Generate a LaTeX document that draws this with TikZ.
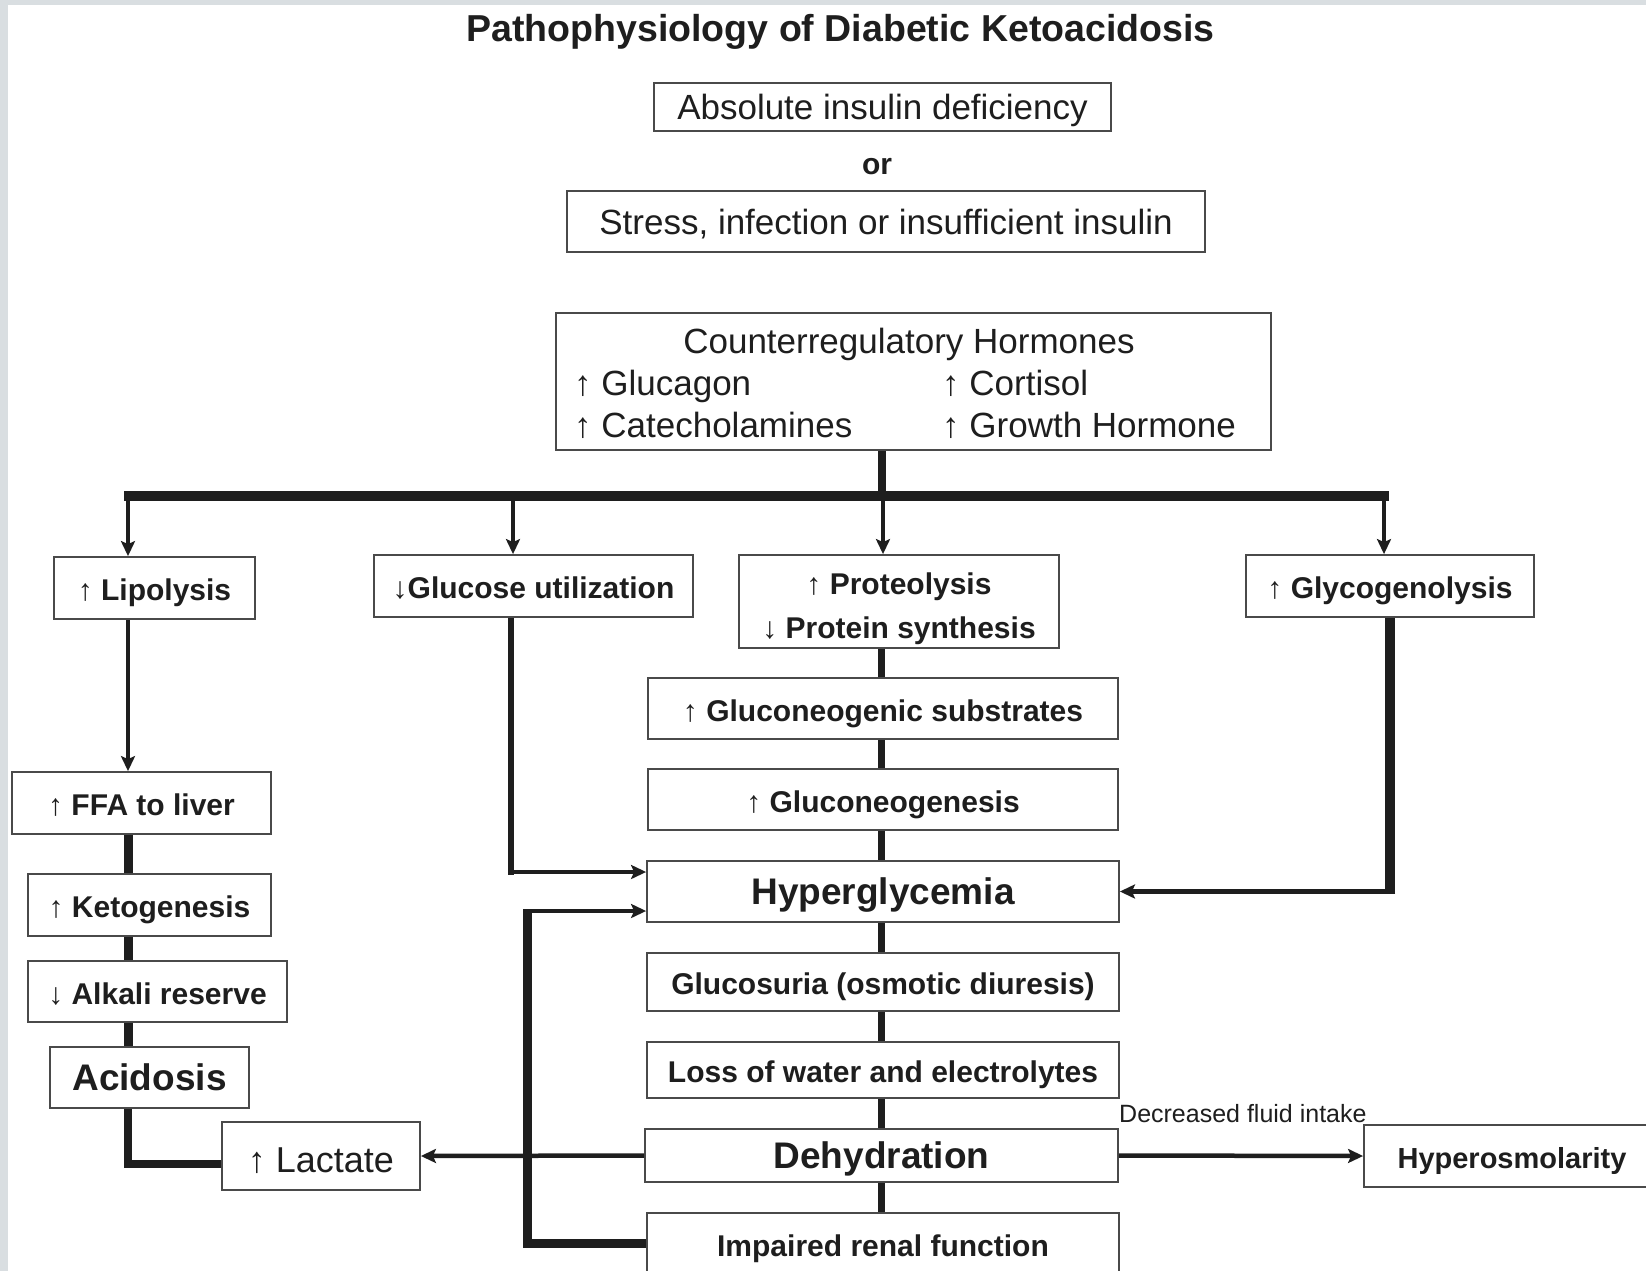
\documentclass[tikz,border=0pt]{standalone}
\usepackage{fontspec}
\setmainfont{Liberation Sans}
\usetikzlibrary{arrows.meta,calc}
\definecolor{bgray}{HTML}{D9DEE1}
\definecolor{ink}{HTML}{1E1E1E}
\definecolor{edge}{HTML}{4A4A4A}
\newcommand{\fsz}[2]{\fontsize{#1}{#2}\selectfont}
\tikzset{
  box/.style={draw=edge, line width=1.8pt, fill=white, inner sep=0pt, text=ink, align=center},
  reg/.style={font=\fsz{35}{42}, text height=29.5pt, text depth=3.5pt},
  bld/.style={font=\fsz{30}{36}\bfseries, text height=27pt, text depth=1.5pt},
  big/.style={font=\fsz{37}{44}\bfseries, text height=30.5pt, text depth=4.5pt},
  plain/.style={inner sep=0pt, text=ink},
  conn/.style={draw=ink, line width=4.5pt},
  mid/.style={draw=ink, line width=7pt},
  thk/.style={draw=ink, line width=9pt},
  tip/.style={-{Stealth[length=15pt,width=14pt,inset=3pt]}},
}
\begin{document}
\begin{tikzpicture}[x=1pt,y=-1pt,line join=miter]
\useasboundingbox (0,0) rectangle (1646,1271);
\clip (0,0) rectangle (1646,1271);
\fill[bgray] (0,0) rectangle (1646,1271);
\fill[white] (8,5) rectangle (1646,1271);

% title and top boxes
\node[plain, font=\fsz{37.5}{44}\bfseries, anchor=base] (title) at (840.5,42) {Pathophysiology of Diabetic Ketoacidosis};
\node[box, reg, minimum width=457pt, minimum height=48pt] (abs) at (882.5,107) {Absolute insulin deficiency};
\node[plain, font=\fsz{30}{36}\bfseries, anchor=base] (or) at (877,174) {or};
\node[box, reg, minimum width=638pt, minimum height=61pt] (stress) at (886,221.5) {Stress, infection or insufficient insulin};

% counterregulatory hormones
\node[box, minimum width=715pt, minimum height=137pt] (counter) at (913.5,381.5) {};
\node[plain, font=\fsz{35}{42}, anchor=base] (ch) at (909,353) {Counterregulatory Hormones};
\node[plain, font=\fsz{35}{42}, anchor=base west] (c1) at (574,395) {↑ Glucagon};
\node[plain, font=\fsz{35}{42}, anchor=base west] (c2) at (942,395) {↑ Cortisol};
\node[plain, font=\fsz{35}{42}, anchor=base west] (c3) at (574,437) {↑ Catecholamines};
\node[plain, font=\fsz{35}{42}, anchor=base west] (c4) at (942,437) {↑ Growth Hormone};

% second row
\node[box, bld, minimum width=201pt, minimum height=62pt] (lipo) at (154.5,588) {↑ Lipolysis};
\node[box, bld, minimum width=319pt, minimum height=62pt] (gluc) at (533.5,586) {↓Glucose utilization};
\node[box, minimum width=320pt, minimum height=93pt] (prot) at (899,601.5) {};
\node[plain, font=\fsz{30}{36}\bfseries, anchor=base] (p1) at (899,594) {↑ Proteolysis};
\node[plain, font=\fsz{30}{36}\bfseries, anchor=base] (p2) at (899,638) {↓ Protein synthesis};
\node[box, bld, minimum width=288pt, minimum height=62pt] (glyco) at (1390,586) {↑ Glycogenolysis};

% central column
\node[box, bld, minimum width=470pt, minimum height=61pt] (substr) at (883,708.5) {↑ Gluconeogenic substrates};
\node[box, bld, minimum width=470pt, minimum height=61pt] (gneo) at (883,799.5) {↑ Gluconeogenesis};
\node[box, big, minimum width=472pt, minimum height=61pt] (hyper) at (883,891.5) {Hyperglycemia};
\node[box, bld, minimum width=472pt, minimum height=58pt] (osm) at (883,982) {Glucosuria (osmotic diuresis)};
\node[box, bld, minimum width=472pt, minimum height=56pt] (loss) at (883,1070) {Loss of water and electrolytes};
\node[box, big, minimum width=473pt, minimum height=53pt] (dehyd) at (881.5,1155.5) {Dehydration};
\node[box, bld, minimum width=472pt, minimum height=62pt] (renal) at (883,1244) {Impaired renal function};
\node[box, font=\fsz{29}{35}\bfseries, text height=25pt, text depth=0pt, minimum width=296pt, minimum height=62pt] (hyperosm) at (1512,1156) {Hyperosmolarity};
\node[plain, font=\fsz{25}{30}, anchor=base west] (dfi) at (1119,1122) {Decreased fluid intake};

% left column
\node[box, bld, minimum width=259pt, minimum height=62pt] (ffa) at (141.5,803) {↑ FFA to liver};
\node[box, bld, minimum width=243pt, minimum height=62pt] (keto) at (149.5,905) {↑ Ketogenesis};
\node[box, bld, minimum width=259pt, minimum height=61pt] (alk) at (157.5,991.5) {↓ Alkali reserve};
\node[box, big, minimum width=199pt, minimum height=61pt] (acid) at (149.5,1077.5) {Acidosis};
\node[box, font=\fsz{36}{43}, text height=33.5pt, text depth=1pt, minimum width=198pt, minimum height=68pt] (lact) at (321,1156) {↑ Lactate};

% coordinates
\coordinate (lx) at (128,0);
\coordinate (cx) at (881,0);
\coordinate (barL) at (128,496);
\coordinate (barG) at (513,496);
\coordinate (barP) at (883,496);
\coordinate (barR) at (1384,496);
\coordinate (stem) at (882,496);
\coordinate (gx) at (511,0);
\coordinate (ic) at (527,911);

% hormones to bar
\draw[draw=ink, line width=8.5pt] (counter.south -| stem) -- (stem);
\draw[draw=ink, line width=10pt] ($(barL)+(-4,0)$) -- ($(barR)+(5,0)$);
\draw[draw=ink, line width=3.5pt, tip] (barL) -- (barL |- lipo.north);
\draw[draw=ink, line width=3.5pt, tip] (barG) -- (barG |- gluc.north);
\draw[draw=ink, line width=3.5pt, tip] (barP) -- (barP |- prot.north);
\draw[draw=ink, line width=3.5pt, tip] (barR) -- (barR |- glyco.north);

% left chain
\draw[draw=ink, line width=3.5pt, tip] (lipo.south -| lx) -- (ffa.north -| lx);
\draw[thk] (ffa.south -| lx) -- (keto.north -| lx);
\draw[thk] (keto.south -| lx) -- (alk.north -| lx);
\draw[thk] (alk.south -| lx) -- (acid.north -| lx);
\draw[draw=ink, line width=8pt] (acid.south -| lx) |- ($(lact.west)+(0,8)$);

% central chain
\draw[mid] (prot.south -| cx) -- (substr.north -| cx);
\draw[mid] (substr.south -| cx) -- (gneo.north -| cx);
\draw[mid] (gneo.south -| cx) -- (hyper.north -| cx);
\draw[mid] (hyper.south -| cx) -- (osm.north -| cx);
\draw[mid] (osm.south -| cx) -- (loss.north -| cx);
\draw[mid] (loss.south -| cx) -- (dehyd.north -| cx);
\draw[mid] (dehyd.south -| cx) -- (renal.north -| cx);

% feeds into hyperglycemia
\draw[draw=ink, line width=6pt] (gluc.south -| gx) -- ($(gx |- hyper.west)+(0,-17)$);
\draw[conn, tip] ($(gx |- hyper.west)+(-3,-19.5)$) -- ($(hyper.west)+(0,-19.5)$);
\draw[draw=ink, line width=10pt] (glyco.south) -- ($(glyco.south |- hyper.east)+(0,2)$);
\draw[conn, tip] ($(glyco.south |- hyper.east)+(5,0)$) -- (hyper.east);
\draw[thk] ($(renal.west)+(0,-1)$) -| ($(ic)+(0,-2)$);
\draw[conn, tip] ($(ic)+(-4,0)$) -- (ic -| hyper.west);

% dehydration outputs
\draw[conn, tip] (dehyd.west) -- (lact.east);
\draw[conn, tip] (dehyd.east) -- (hyperosm.west);
\end{tikzpicture}
\end{document}
